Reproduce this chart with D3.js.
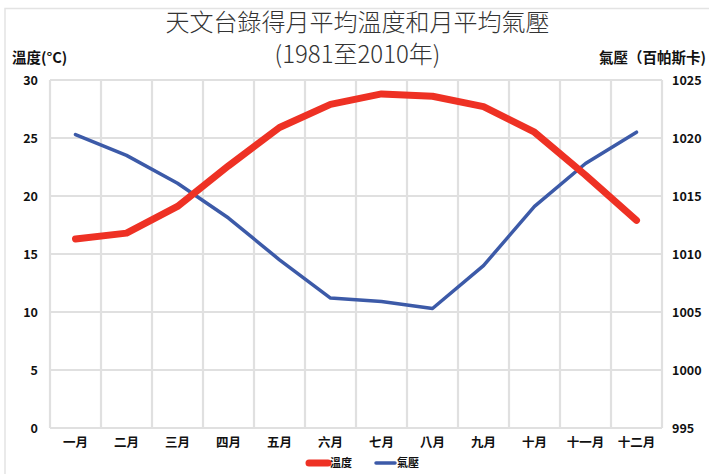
<!DOCTYPE html>
<html><head><meta charset="utf-8">
<script src="https://cdn.jsdelivr.net/npm/d3@7"></script>
<style>body{margin:0;background:#fff}svg{display:block}</style>
</head><body>
<script>
const months = ["一月","二月","三月","四月","五月","六月","七月","八月","九月","十月","十一月","十二月"];
const temperature = [16.3,16.8,19.1,22.6,25.9,27.9,28.8,28.6,27.7,25.5,21.8,17.9];
const pressure = [1020.3,1018.5,1016.1,1013.1,1009.5,1006.2,1005.9,1005.3,1009.0,1014.1,1017.8,1020.5];
const leftTicks = [0,5,10,15,20,25,30];
const rightTicks = [995,1000,1005,1010,1015,1020,1025];
const titleLines = ["天文台錄得月平均溫度和月平均氣壓","(1981至2010年)"];
const seriesNames = ["溫度","氣壓"];

const W=709,H=474;
const m={l:50,r:662,t:80,b:428};
const font="'Noto Sans CJK TC','Liberation Sans',sans-serif";
const svg=d3.select("body").append("svg").attr("width",W).attr("height",H);

svg.append("rect").attr("x",5).attr("y",8.5).attr("width",W+10).attr("height",H+10)
  .attr("fill","none").attr("stroke","#e3e3e3").attr("stroke-width",1.5);

const x=d3.scaleBand().domain(months).range([m.l,m.r]);
const yL=d3.scaleLinear().domain([0,30]).range([m.b,m.t]);
const yR=d3.scaleLinear().domain([995,1025]).range([m.b,m.t]);

// grid
const g=svg.append("g").attr("stroke","#e0e0e0").attr("stroke-width",2.2);
leftTicks.forEach(t=>g.append("line").attr("x1",m.l).attr("x2",m.r).attr("y1",yL(t)).attr("y2",yL(t)));
months.forEach(mo=>g.append("line").attr("x1",x(mo)).attr("x2",x(mo)).attr("y1",m.t).attr("y2",m.b));
g.append("line").attr("x1",m.r).attr("x2",m.r).attr("y1",m.t).attr("y2",m.b);

// axes
const axL=d3.axisLeft(yL).tickValues(leftTicks).tickSize(0).tickPadding(12);
const axR=d3.axisRight(yR).tickValues(rightTicks).tickFormat(d3.format("d")).tickSize(0).tickPadding(10);
const axB=d3.axisBottom(x).tickSize(0).tickPadding(10);
function styleAxis(sel){sel.select(".domain").remove();sel.selectAll("text").attr("font-family",font).attr("font-weight","bold").attr("font-size",12.5).attr("fill","#111");}
svg.append("g").attr("transform",`translate(${m.l},0)`).call(axL).call(styleAxis);
svg.append("g").attr("transform",`translate(${m.r},0)`).call(axR).call(styleAxis);
svg.append("g").attr("transform",`translate(0,${m.b})`).call(axB).call(styleAxis);

// lines
const cx=d=>x(d)+x.bandwidth()/2;
const lineT=d3.line().x((d,i)=>cx(months[i])).y(d=>yL(d));
const lineP=d3.line().x((d,i)=>cx(months[i])).y(d=>yR(d));
svg.append("path").attr("d",lineP(pressure)).attr("fill","none").attr("stroke","#3c5aa8").attr("stroke-width",3.5).attr("stroke-linecap","round").attr("stroke-linejoin","round");
svg.append("path").attr("d",lineT(temperature)).attr("fill","none").attr("stroke","#ee3124").attr("stroke-width",7).attr("stroke-linecap","round").attr("stroke-linejoin","round");

// titles
svg.selectAll(".title").data(titleLines).enter().append("text")
  .attr("x",W/2+3).attr("y",(d,i)=>31+i*32).attr("text-anchor","middle")
  .attr("font-family",font).attr("font-weight",300).attr("font-size",24).attr("fill","#333").text(d=>d);
svg.append("text").attr("x",12).attr("y",63).attr("font-family",font).attr("font-weight","bold").attr("font-size",14.5).attr("fill","#111").text("溫度(°C)");
svg.append("text").attr("x",706).attr("y",63).attr("text-anchor","end").attr("font-family",font).attr("font-weight","bold").attr("font-size",14.5).attr("fill","#111").text("氣壓（百帕斯卡)");

// legend
const leg=[{n:seriesNames[0],c:"#ee3124",w:7,x:307},{n:seriesNames[1],c:"#3c5aa8",w:3.5,x:374}];
leg.forEach(l=>{
  svg.append("line").attr("x1",l.x+2).attr("x2",l.x+21).attr("y1",463).attr("y2",463).attr("stroke",l.c).attr("stroke-width",l.w).attr("stroke-linecap","round");
  svg.append("text").attr("x",l.x+23).attr("y",467).attr("font-family",font).attr("font-weight","bold").attr("font-size",11).attr("fill","#111").text(l.n);
});
</script>
</body></html>
